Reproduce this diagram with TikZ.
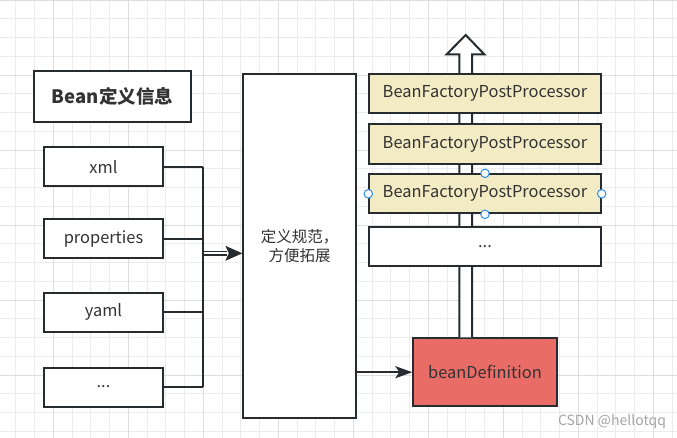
\documentclass[tikz,border=0pt]{standalone}
\usepackage{fontspec}
\setmainfont{Noto Sans CJK SC}
\usetikzlibrary{arrows.meta,calc}
\definecolor{ink}{RGB}{38,43,48}
\definecolor{txt}{RGB}{51,51,51}
\definecolor{gminorc}{RGB}{236,236,236}
\definecolor{gmajorc}{RGB}{222,222,222}
\definecolor{bfpp}{RGB}{243,235,195}
\definecolor{bdred}{RGB}{234,108,103}
\definecolor{handle}{RGB}{45,140,240}
\definecolor{wm}{RGB}{165,165,165}
\tikzset{
  gminor/.style={draw=gminorc,line width=0.9pt},
  gmajor/.style={draw=gmajorc,line width=0.9pt},
  box/.style={draw=ink,line width=2pt,fill=white,rectangle,inner sep=0pt,text=txt,font=\fontsize{16.4}{19}\selectfont},
  bfbox/.style={box,fill=bfpp,minimum width=231.4pt,minimum height=39pt},
  srcbox/.style={box,minimum width=119pt,minimum height=39pt},
  conn/.style={draw=ink,line width=2pt},
  hnd/.style={draw=handle,fill=white,line width=1pt,circle,inner sep=0pt,minimum size=8.5pt}
}
\begin{document}
\begin{tikzpicture}[x=1pt,y=-1pt]
\useasboundingbox (0,0) rectangle (677,438);
\clip (0,0) rectangle (677,438);
\fill[white] (0,0) rectangle (677,438);
% grid
\foreach \i in {0,...,35} {
  \pgfmathsetmacro\xx{15.8+18.75*\i}
  \draw[gminor] (\xx,0) -- (\xx,438);
}
\foreach \i in {0,...,23} {
  \pgfmathsetmacro\yy{18.75*\i}
  \draw[gminor] (0,\yy) -- (677,\yy);
}
\foreach \i in {0,...,9} {
  \pgfmathsetmacro\xx{-21.7+75*\i}
  \draw[gmajor] (\xx,0) -- (\xx,438);
}
\foreach \i in {0,...,5} {
  \pgfmathsetmacro\yy{75*\i}
  \draw[gmajor] (0,\yy) -- (677,\yy);
}
% nodes
\node[box,line width=2.4pt,minimum width=157pt,minimum height=51pt,font=\fontsize{18.5}{22}\selectfont\bfseries] (title) at (112.5,96.5) {Bean定义信息};
\node[srcbox] (xml) at (103.5,166.7) {xml};
\node[srcbox] (props) at (103.5,238.8) {properties};
\node[srcbox] (yaml) at (103.5,312) {yaml};
\node[srcbox] (more) at (103.5,387) {...};
\node[box,minimum width=112.7pt,minimum height=343.7pt,align=center,font=\fontsize{15.5}{19.5}\selectfont] (big) at (299.7,246.2) {定义规范，\\方便拓展};
\node[box,fill=bdred,minimum width=143.4pt,minimum height=67.7pt] (bd) at (485,372.2) {beanDefinition};
% hollow up arrow (behind processor boxes)
\coordinate (sb) at ($(bd.north)+(-19.3,0)$);
\coordinate (tip) at (465.7,35);
\draw[conn,fill=white,line join=miter]
  ($(sb)+(-6.4,0)$) -- ($(tip)+(-6.4,19.3)$) -- ($(tip)+(-19,19.3)$) -- (tip)
  -- ($(tip)+(18.6,19.3)$) -- ($(tip)+(6.3,19.3)$) -- ($(sb)+(6.3,0)$);
\node[bfbox] (bf1) at (485,93.8) {BeanFactoryPostProcessor};
\node[bfbox,minimum height=39.7pt] (bf2) at (485,144.2) {BeanFactoryPostProcessor};
\node[bfbox] (bf3) at (485,193.8) {BeanFactoryPostProcessor};
\node[bfbox,fill=white,minimum height=39.3pt] (bf4) at (485,246.3) {...};
% selection handles
\node[hnd] (h1) at (bf3.north) {};
\node[hnd] (h2) at (bf3.south) {};
\node[hnd] (h3) at (bf3.west) {};
\node[hnd] (h4) at (bf3.east) {};
% connectors
\coordinate (bus) at (203.3,0);
\draw[conn] (xml.east) -- (xml.east -| bus);
\draw[conn] (props.east) -- (props.east -| bus);
\draw[conn] (yaml.east) -- (yaml.east -| bus);
\draw[conn] (more.east) -- (more.east -| bus);
\draw[conn] (xml.east -| bus) -- (more.east -| bus);
% double arrow into big box
\coordinate (dj) at (203.3,253.3);
\coordinate (dt) at (big.west |- dj);
\draw[draw=ink,line width=1.5pt] ($(dj)+(0,-1.9)$) -- ($(dt)+(-15,-1.9)$);
\draw[draw=ink,line width=1.5pt] ($(dj)+(0,1.9)$) -- ($(dt)+(-15,1.9)$);
\fill[ink] (dt) -- ($(dt)+(-17,-7.5)$) -- ($(dt)+(-13.5,0)$) -- ($(dt)+(-17,7.5)$) -- cycle;
% arrow to beanDefinition
\coordinate (bs) at (big.east |- bd.west);
\draw[conn,-{Stealth[length=17pt,width=12pt,inset=4pt]}] (bs) -- (bd.west);
% watermark
\node[text=wm,font=\fontsize{14}{16}\selectfont,inner sep=0pt] (wmk) at (612,421.7) {CSDN @hellotqq};
\end{tikzpicture}
\end{document}
